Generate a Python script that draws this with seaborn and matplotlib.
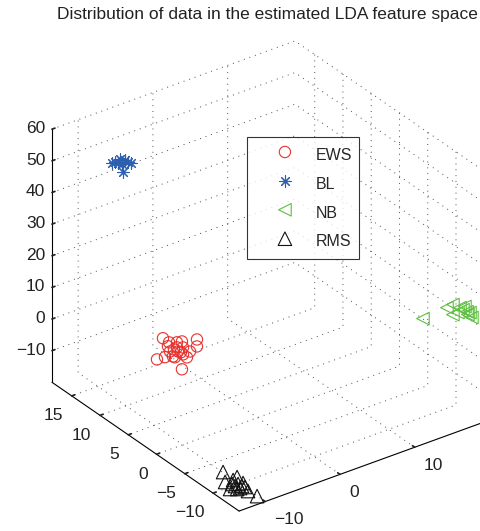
import matplotlib
matplotlib.use("Agg")
import matplotlib.pyplot as plt
import seaborn as sns
import pandas as pd

# LDA coordinates (first three discriminants) for each tumour class
ews_x = [-3.57, -2.76, -1.70, -1.03, 0.98, 0.98, -4.37, -3.30, -2.23, -1.70, -0.89,
         -0.89, -1.96, -0.36, -1.03, -2.63, -1.56, 0.04, -2.90, -2.10, -1.16]
ews_y = [12.0, 12.0, 12.0, 12.0, 12.0, 12.0, 12.0, 12.0, 12.0, 12.0, 12.0,
         12.0, 12.0, 12.0, 12.0, 12.0, 12.0, 12.0, 12.0, 12.0, 12.0]
ews_z = [-6.6, -8.6, -9.5, -9.8, -10.9, -13.1, -12.6, -12.8, -13.5, -11.1, -11.8,
         -14.0, -14.0, -15.4, -18.6, -11.6, -12.5, -13.9, -9.7, -11.4, -13.1]

bl_x = [-8.47, -7.80, -7.14, -6.74, -7.54, -7.40, -8.07, -8.87, -6.33]
bl_y = [14.0, 14.0, 14.0, 14.0, 14.0, 14.0, 14.0, 14.0, 14.0]
bl_z = [50.9, 51.2, 50.3, 49.4, 49.4, 46.8, 50.2, 50.9, 48.7]

nb_x = [11.55, 14.76, 15.56, 16.50, 16.90, 17.44, 16.23, 17.57, 18.10, 15.56, 17.17, 17.84]
nb_y = [-14.0, -14.0, -14.0, -14.0, -14.0, -14.0, -14.0, -14.0, -14.0, -14.0, -14.0, -14.0]
nb_z = [18.6, 19.3, 19.6, 17.8, 16.8, 15.7, 16.5, 14.7, 13.3, 16.4, 17.6, 15.1]

rms_x = [-11.55, -10.96, -12.64, -12.28, -12.28, -11.76, -11.67, -11.53,
         -13.09, -12.48, -11.78, -11.03, -12.09, -11.20, -11.69]
rms_y = [-9.19, -10.89, -10.99, -11.75, -12.27, -12.12, -12.70, -13.05,
         -12.47, -12.90, -13.91, -14.52, -12.92, -12.26, -11.15]
rms_z = [-16.0, -16.0, -16.0, -16.0, -16.0, -16.0, -16.0, -16.0,
         -16.0, -16.0, -16.0, -17.5, -16.0, -16.0, -16.0]

classes = ["EWS", "BL", "NB", "RMS"]
x_ticks = [-10, 0, 10]
y_ticks = [-10, -5, 0, 5, 10, 15]
z_ticks = [-10, 0, 10, 20, 30, 40, 50, 60]

frames = []
for name, xs, ys, zs in zip(classes,
                            [ews_x, bl_x, nb_x, rms_x],
                            [ews_y, bl_y, nb_y, rms_y],
                            [ews_z, bl_z, nb_z, rms_z]):
    frames.append(pd.DataFrame({"x": xs, "y": ys, "z": zs, "cls": name}))
df = pd.concat(frames, ignore_index=True)

sns.set_theme(style="white")
plt.rcParams["font.family"] = ["Liberation Sans", "DejaVu Sans"]
plt.rcParams["grid.color"] = "#4d4d4d"
plt.rcParams["grid.linewidth"] = 0.7
plt.rcParams["grid.linestyle"] = (0, (1, 5))

palette = dict(zip(classes, sns.color_palette(["#e8322f", "#2c5fb0", "#5cbf3e", "#111111"])))
markers = {"EWS": "o", "BL": (8, 2, 0), "NB": "<", "RMS": "^"}
sizes = {"EWS": 66, "BL": 66, "NB": 82, "RMS": 95}

fig = plt.figure(figsize=(4.81, 5.31), dpi=100)
ax = fig.add_axes([20 / 481, 8 / 531, 1.0, 481 / 531], projection="3d")
ax.set_proj_type("ortho")
ax.view_init(elev=30, azim=-126)
ax.set_box_aspect((300, 318, 292), zoom=1.062)

for name in classes:
    d = df[df["cls"] == name]
    col = palette[name]
    if name == "BL":
        ax.scatter(d["x"], d["y"], d["z"], marker=markers[name], s=sizes[name],
                   color=col, linewidths=0.8, depthshade=False, label=name)
    else:
        ax.scatter(d["x"], d["y"], d["z"], marker=markers[name], s=sizes[name],
                   facecolors="none", edgecolors=col, linewidths=0.8,
                   depthshade=False, label=name)

ax.set_xlim(-13.5, 19)
ax.set_ylim(-14.6, 18.5)
ax.set_zlim(-20, 60)
ax.set_xticks(x_ticks)
ax.set_yticks(y_ticks)
ax.set_zticks(z_ticks)

for axis in (ax.xaxis, ax.yaxis, ax.zaxis):
    axis.set_pane_color((1, 1, 1, 0))
    axis.pane.set_edgecolor((1, 1, 1, 0))
    axis.line.set_color("black")
    axis.line.set_linewidth(0.8)
    axis._axinfo["grid"].update(color="#4d4d4d", linewidth=0.7, linestyle=(0, (1, 5)))
    axis._axinfo["tick"]["inward_factor"] = 0.0
    axis._axinfo["tick"]["outward_factor"] = 0.15
ax.tick_params(labelsize=12.5, colors="#222222")
ax.xaxis.set_tick_params(pad=0.6)
ax.yaxis.set_tick_params(pad=-1.5)
ax.zaxis.set_tick_params(pad=-5.2)

# tick label anchoring: x labels hang to the right, y and z labels end at the tick
for axis, ha, va in ((ax.xaxis, "left", "center"),
                     (ax.yaxis, "right", "top"),
                     (ax.zaxis, "right", "center")):
    for tick in axis.get_major_ticks():
        tick.label1.set_horizontalalignment(ha)
        tick.label1.set_verticalalignment(va)
ax.grid(True)

fig.text(267 / 481, 1 - 15 / 531, "Distribution of data in the estimated LDA feature space",
         ha="center", va="center", fontsize=12.5, color="#222222")

leg = ax.legend(loc="upper left", bbox_to_anchor=(247 / 481, 1 - 137 / 531),
                bbox_transform=fig.transFigure, borderaxespad=0, frameon=True,
                fancybox=False, fontsize=11.5, borderpad=0.45, handlelength=3.85,
                handletextpad=0.0, handleheight=1.6, labelspacing=0.525, scatterpoints=1)
leg.get_frame().set_edgecolor("black")
leg.get_frame().set_linewidth(0.8)

fig.savefig("out.png", dpi=100)
